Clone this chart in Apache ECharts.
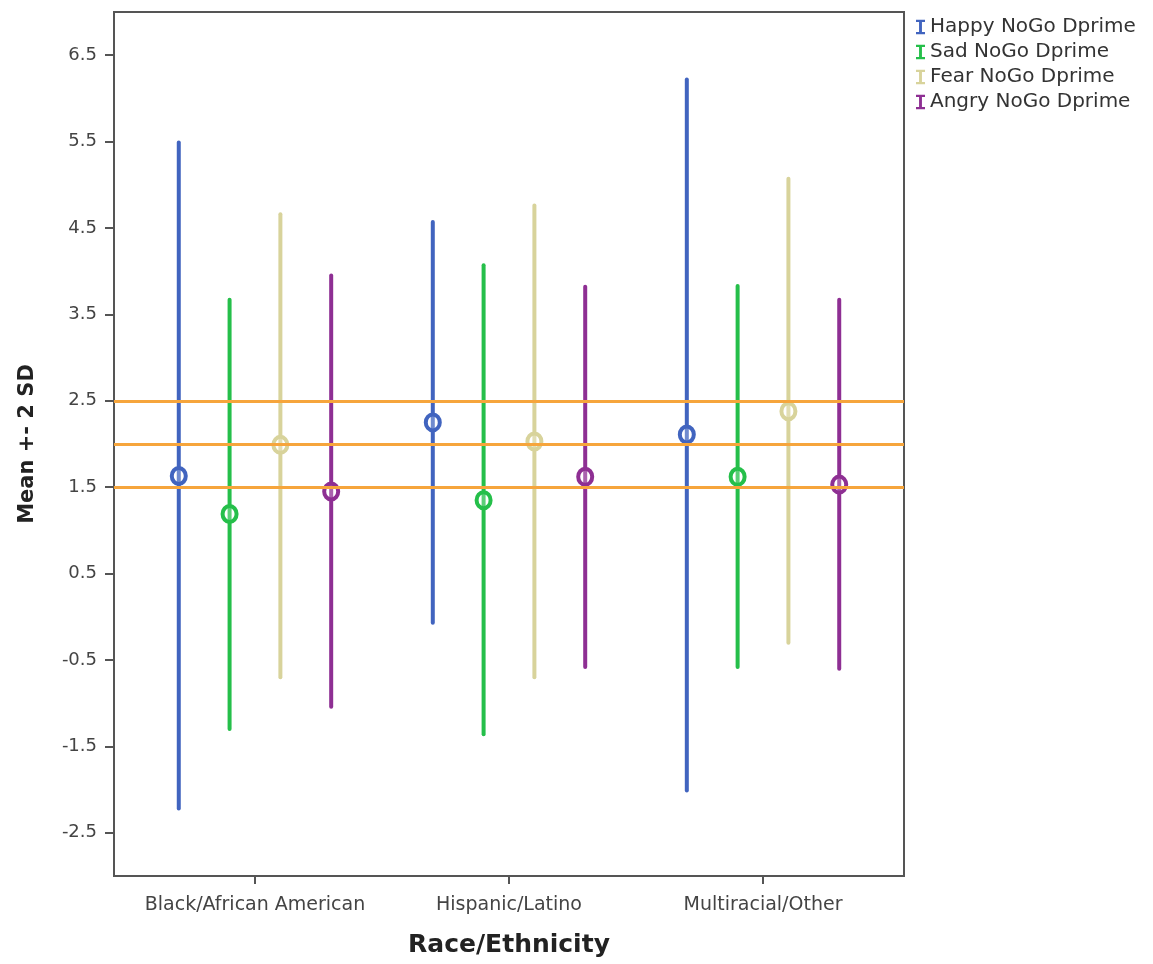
<!DOCTYPE html>
<html><head><meta charset="utf-8">
<script src="https://cdn.jsdelivr.net/npm/echarts@6/dist/echarts.min.js"></script>
<style>html,body{margin:0;padding:0;background:#fff}#c{width:1153px;height:964px}</style>
</head><body><div id="c"></div>
<script>
const categories = ['Black/African American', 'Hispanic/Latino', 'Multiracial/Other'];
const seriesNames = ['Happy NoGo Dprime', 'Sad NoGo Dprime', 'Fear NoGo Dprime', 'Angry NoGo Dprime'];
const happyMean = [1.63, 2.25, 2.11];
const happyLow  = [-2.22, -0.07, -2.01];
const happyHigh = [5.49, 4.57, 6.22];
const sadMean = [1.19, 1.35, 1.62];
const sadLow  = [-1.30, -1.36, -0.58];
const sadHigh = [3.67, 4.07, 3.83];
const fearMean = [1.99, 2.03, 2.38];
const fearLow  = [-0.70, -0.70, -0.30];
const fearHigh = [4.66, 4.76, 5.07];
const angryMean = [1.45, 1.62, 1.53];
const angryLow  = [-1.04, -0.58, -0.60];
const angryHigh = [3.95, 3.82, 3.67];
const referenceLines = [1.5, 2.0, 2.5];
const yTickValues = [-2.5, -1.5, -0.5, 0.5, 1.5, 2.5, 3.5, 4.5, 5.5, 6.5];

const means = [happyMean, sadMean, fearMean, angryMean];
const lows = [happyLow, sadLow, fearLow, angryLow];
const highs = [happyHigh, sadHigh, fearHigh, angryHigh];
const colors = ['#4164bf', '#25bf4a', '#d8d39b', '#8e2f93'];
const offsets = [-0.3, -0.1, 0.1, 0.3];
const ibeam = 'path://M0,0 L10,0 L10,2.5 L6.6,2.5 L6.6,13.5 L10,13.5 L10,16 L0,16 L0,13.5 L3.4,13.5 L3.4,2.5 L0,2.5 Z';

function renderItem(params, api) {
  const x = api.value(0);
  const lo = api.coord([x, api.value(1)]);
  const hi = api.coord([x, api.value(2)]);
  const m = api.coord([x, api.value(3)]);
  const color = api.visual('color');
  return {
    type: 'group',
    children: [
      { type: 'line', shape: { x1: lo[0], y1: lo[1], x2: hi[0], y2: hi[1] },
        style: { stroke: color, lineWidth: 4, lineCap: 'round' } },
      { type: 'ellipse', shape: { cx: m[0], cy: m[1], rx: 7, ry: 8 },
        style: { fill: 'rgba(255,255,255,0.25)', stroke: color, lineWidth: 4 } }
    ]
  };
}

const series = seriesNames.map((name, s) => ({
  name: name,
  type: 'custom',
  renderItem: renderItem,
  color: colors[s],
  z: 2,
  encode: { x: 0, y: [1, 2, 3] },
  data: categories.map((c, i) => [i + offsets[s], lows[s][i], highs[s][i], means[s][i]])
}));
series.push({
  name: 'ref',
  type: 'line',
  data: [],
  z: 5,
  markLine: {
    silent: true,
    symbol: 'none',
    label: { show: false },
    lineStyle: { color: '#f6a53c', width: 3, type: 'solid' },
    data: referenceLines.map(v => ({ yAxis: v }))
  }
});

const chart = echarts.init(document.getElementById('c'));
chart.setOption({
  animation: false,
  backgroundColor: '#fff',
  grid: { left: 114, top: 12, right: 249, bottom: 88, show: true, borderColor: '#555', borderWidth: 2, backgroundColor: 'transparent' },
  legend: {
    orient: 'vertical', left: 911, top: 12, itemGap: 5, itemWidth: 9, itemHeight: 16,
    textStyle: { fontSize: 20, color: '#333', fontFamily: 'DejaVu Sans', lineHeight: 18 },
    data: seriesNames.map((n, s) => ({ name: n, icon: ibeam, itemStyle: { color: colors[s] } }))
  },
  xAxis: {
    type: 'value', min: -0.555, max: 2.555,
    axisLine: { show: false, onZero: false },
    splitLine: { show: false },
    axisTick: { show: true, customValues: [0, 1, 2], length: 8, lineStyle: { color: '#555', width: 2 } },
    axisLabel: { customValues: [0, 1, 2], formatter: v => categories[Math.round(v)], margin: 20,
      fontSize: 19, color: '#444', fontFamily: 'DejaVu Sans' },
    name: 'Race/Ethnicity', nameLocation: 'middle', nameGap: 57,
    nameTextStyle: { fontSize: 25, fontWeight: 'bold', color: '#222', fontFamily: 'DejaVu Sans' }
  },
  yAxis: {
    type: 'value', min: -3, max: 7,
    axisLine: { show: false, onZero: false },
    splitLine: { show: false },
    axisTick: { show: true, customValues: yTickValues, length: 9, lineStyle: { color: '#555', width: 2 } },
    axisLabel: { customValues: yTickValues, formatter: v => v.toFixed(1), margin: 17,
      fontSize: 18, color: '#444', fontFamily: 'DejaVu Sans' },
    name: 'Mean +- 2 SD', nameLocation: 'middle', nameGap: 76,
    nameTextStyle: { fontSize: 21, fontWeight: 'bold', color: '#222', fontFamily: 'DejaVu Sans' }
  },
  series: series
});
</script></body></html>
